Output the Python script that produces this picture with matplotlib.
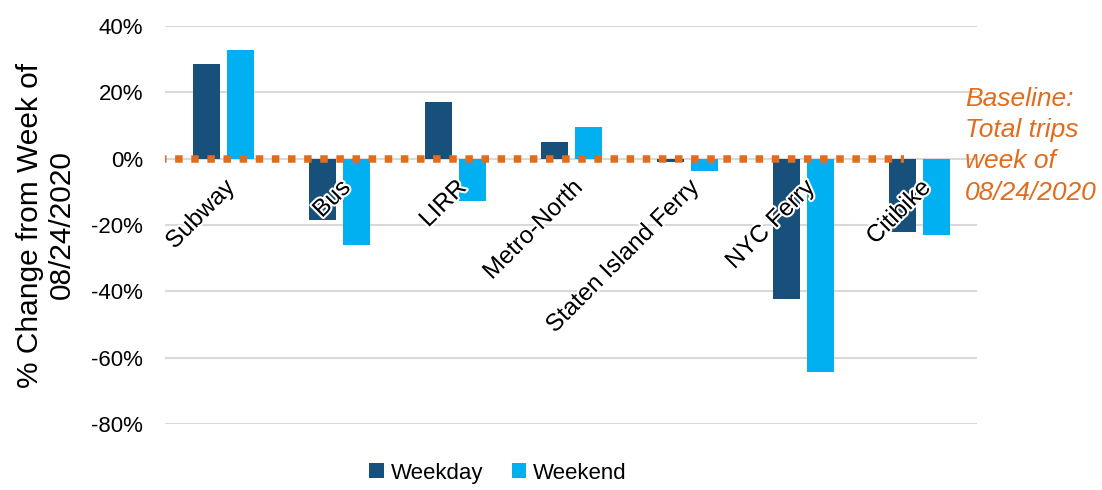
import numpy as np
import matplotlib.pyplot as plt
import matplotlib.patheffects as pe
from matplotlib.ticker import FuncFormatter

plt.rcParams['font.family'] = ['Liberation Sans', 'DejaVu Sans']

# modes and % change vs week of 08/24/2020
modes = ['Subway', 'Bus', 'LIRR', 'Metro-North', 'Staten Island Ferry', 'NYC Ferry', 'Citibike']
weekday = [28.6, -18.5, 17.0, 5.0, -0.9, -42.3, -22.2]
weekend = [32.9, -26.0, -12.7, 9.4, -3.7, -64.3, -23.0]
baseline = [0, 0]

c_wd = '#17507A'
c_we = '#00B0F0'
c_base = '#E26B1C'

fig = plt.figure(figsize=(11.02, 4.9), dpi=100)
ax = fig.add_axes([0.150, 0.135, 0.737, 0.812])

x = np.arange(len(modes))
w = 0.23
off = 0.146
ax.bar(x - off, weekday, w, color=c_wd, label='Weekday', zorder=2)
ax.bar(x + off, weekend, w, color=c_we, label='Weekend', zorder=2)

# dotted baseline (square dots)
ax.plot([-0.55, 5.87], baseline, color=c_base, lw=5.4, ls=(0, (1.0, 1.15)),
        solid_capstyle='butt', dash_capstyle='butt', zorder=3)

ax.set_xlim(-0.5, len(modes) - 0.5)
ax.set_ylim(-80, 40)
ax.set_yticks(np.arange(-80, 41, 20))
ax.yaxis.set_major_formatter(FuncFormatter(lambda v, p: '%d%%' % v))
ax.grid(axis='y', color='#D9D9D9', lw=1.5, zorder=0)
ax.set_axisbelow(True)
for s in ax.spines.values():
    s.set_visible(False)
ax.tick_params(axis='y', length=0, pad=16, labelsize=16)
ax.set_xticks([])

# category labels inside the plot, rotated
for i, m in enumerate(modes):
    ax.text(i + 0.0, -5.5, m, rotation=45, rotation_mode='anchor',
            ha='right', va='top', fontsize=17.5, color='black', zorder=4,
            path_effects=[pe.withStroke(linewidth=3, foreground='white')])

fig.text(46 / 1102, 1 - 225 / 490, '% Change from Week of\n08/24/2020',
         rotation=90, fontsize=21.5, ha='center', va='center', linespacing=1.2)

fig.text(965 / 1102, 1 - 87 / 490, 'Baseline:\nTotal trips\nweek of\n08/24/2020',
         color=c_base, style='italic', fontsize=19, va='top', ha='left',
         linespacing=1.38)

fig.legend(loc='center', bbox_to_anchor=(498 / 1102, 1 - 473 / 490), ncol=2,
           frameon=False, fontsize=16, handlelength=0.65, handleheight=0.65,
           handletextpad=0.3, columnspacing=1.3)

fig.savefig('out.png', dpi=100)
